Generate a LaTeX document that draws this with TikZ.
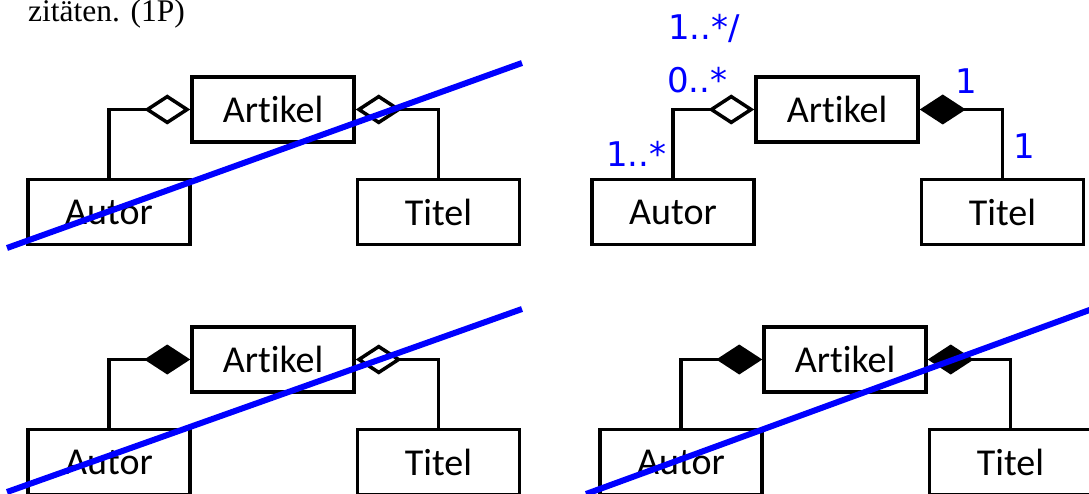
\documentclass[tikz,border=0pt]{standalone}
\usepackage{fontspec}
\setmainfont{Carlito}[Ligatures=NoCommon]
\newfontfamily\serifft{Liberation Serif}
\newfontfamily\lblfont{DejaVu Sans}
\usetikzlibrary{arrows.meta}

\tikzset{
  cls/.style={draw, line width=3.5pt, minimum width=162pt, minimum height=65pt,
              inner sep=0pt, font=\fontsize{38}{40}\selectfont},
  agg/.style={line width=3.5pt, -{Diamond[open,length=46pt,width=30pt]}},
  comp/.style={line width=3.5pt, -{Diamond[length=46pt,width=30pt]}},
  mult/.style={text=blue, font=\lblfont\fontsize{34}{38}\selectfont,
               inner sep=0pt, anchor=base west},
  strikeline/.style={draw=blue, line width=6pt},
}

\newcommand\umlpanel[5]{%
  \begin{scope}[shift={(#1,#2)}]
    \node[cls] (art#3) at (273,109.5) {Artikel};
    \node[cls] (aut#3) at (109,212) {Autor};
    \node[cls] (tit#3) at (438.5,212) {Titel};
    \draw[#4] (aut#3.north) |- (art#3.west);
    \draw[#5] (tit#3.north) |- (art#3.east);
  \end{scope}}

\begin{document}
\begin{tikzpicture}[x=1pt, y=-1pt]
  \useasboundingbox[fill=white] (0,0) rectangle (1089,494);

  \node[font=\serifft\fontsize{31.5}{36}\selectfont, inner sep=0pt, anchor=base west]
    (title) at (28,22) {zitäten. (1P)};

  \umlpanel{0}{0}{A}{agg}{agg}
  \umlpanel{564}{0}{B}{agg}{comp}
  \umlpanel{0}{250}{C}{comp}{agg}
  \umlpanel{572}{250}{D}{comp}{comp}

  % multiplicities (panel B)
  \node[mult] (m1) at (668,40) {1..*/};
  \node[mult] (m2) at (667,93) {0..*};
  \node[mult] (m3) at (606,167) {1..*};
  \node[mult] (m4) at (955,94) {1};
  \node[mult] (m5) at (1013,159) {1};

  % strike-through lines
  \coordinate (sA1) at (7,248);   \coordinate (sA2) at (522,63);
  \coordinate (sC1) at (7,492);   \coordinate (sC2) at (522,309);
  \coordinate (sD1) at (586,494); \coordinate (sD2) at (1095,308);
  \draw[strikeline] (sA1) -- (sA2);
  \draw[strikeline] (sC1) -- (sC2);
  \draw[strikeline] (sD1) -- (sD2);
\end{tikzpicture}
\end{document}
